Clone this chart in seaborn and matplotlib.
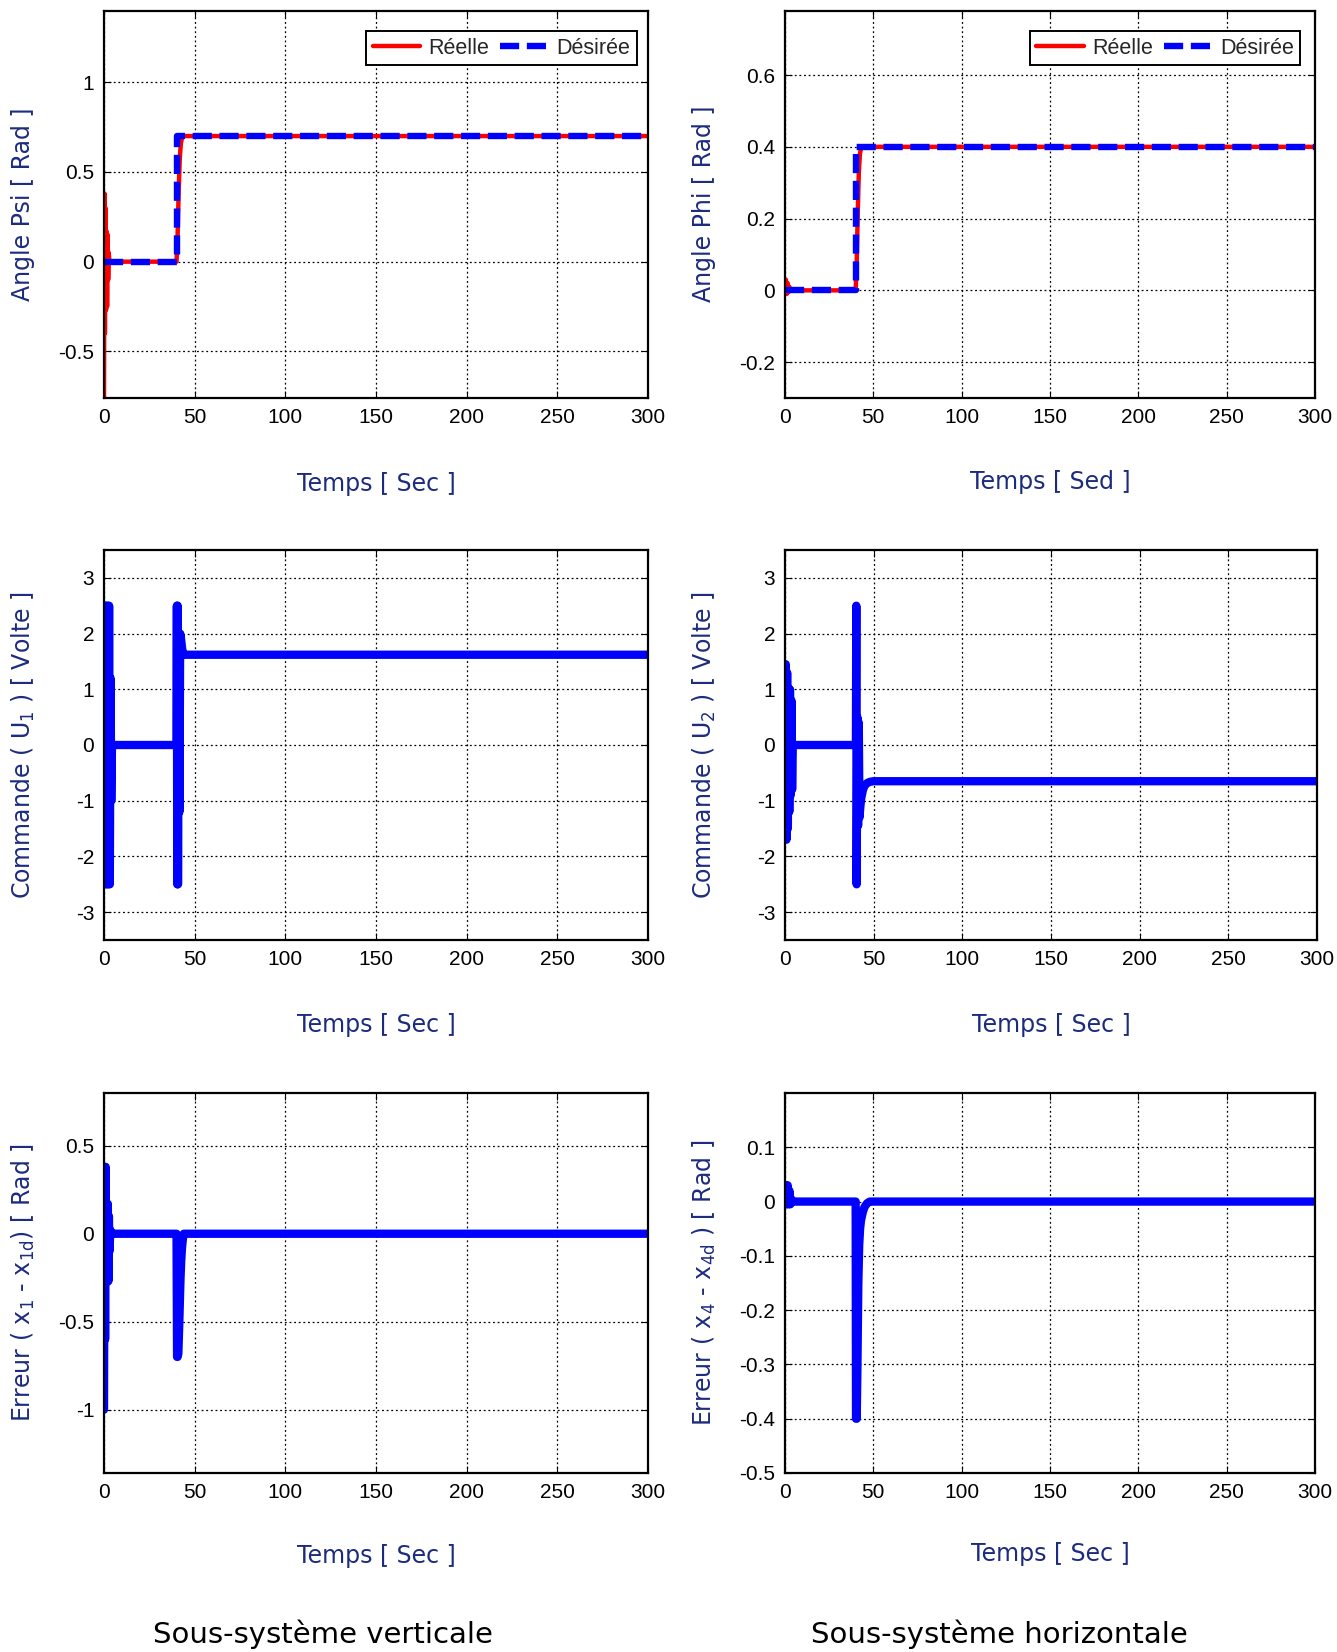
import numpy as np
import pandas as pd
import matplotlib
matplotlib.use("Agg")
import matplotlib.pyplot as plt
import seaborn as sns
from matplotlib.ticker import FuncFormatter, FixedLocator

# ---------------- data ----------------
t_psi_real = [0, 0.25, 0.5, 0.8, 1.1, 1.4, 1.7, 2.0, 2.3, 2.6, 3.0, 3.5,
              40.0, 40.6, 41.2, 41.8, 42.4, 43.0, 44.0, 300]
psi_real = [-0.76, 0.38, -0.40, 0.30, -0.27, 0.17, -0.25, 0.15, -0.10, 0.05, 0.0, 0.0,
            0.0, 0.15, 0.40, 0.58, 0.66, 0.69, 0.70, 0.70]
t_psi_des = [0, 40, 40, 300]
psi_des = [0, 0, 0.7, 0.7]

t_phi_real = [0, 0.5, 1.0, 1.5, 2.0, 2.5, 3.0, 40, 40.6, 41.2, 41.8, 42.4, 43, 44, 300]
phi_real = [0, 0.03, -0.01, 0.02, -0.005, 0.01, 0, 0, 0.08, 0.22, 0.33, 0.38, 0.395, 0.40, 0.40]
t_phi_des = [0, 40, 40, 300]
phi_des = [0, 0, 0.4, 0.4]

t_u1 = [0, 0.4, 0.8, 1.2, 1.6, 2.0, 2.4, 2.8, 3.2, 3.6, 4.0, 4.4,
        40.0, 40.2, 40.4, 40.6, 40.8, 41.2, 41.6, 42.0, 42.5, 43.0, 43.5, 44.0, 300]
u1 = [0, 2.5, -2.5, 2.5, -2.5, 2.5, -2.5, 2.5, -2.5, 1.2, -1.0, 0,
      0, 2.5, -2.5, 2.5, -2.5, 2.0, -1.2, 2.0, 1.9, 1.75, 1.65, 1.62, 1.62]

t_u2 = [0, 0.4, 0.8, 1.2, 1.6, 2.0, 2.4, 2.8, 3.2, 3.6, 4.0, 4.4,
        40.0, 40.2, 40.4, 40.8, 41.2, 41.6, 42.0, 42.5, 43.0, 44.0, 45.0, 46.5, 48.0, 50.0, 300]
u2 = [0, 1.45, -1.7, 1.3, -1.5, 1.0, -1.2, 1.0, -0.9, 0.8, -0.8, 0,
      0, 2.5, -2.5, 0.5, -1.45, 0.4, -1.3, -1.1, -0.95, -0.8, -0.72, -0.68, -0.66, -0.65, -0.65]

t_e1 = [0, 0.3, 0.6, 0.9, 1.2, 1.5, 1.8, 2.1, 2.4, 2.7, 3.0, 3.5, 4.2,
        40.0, 40.3, 40.6, 41.0, 41.4, 41.8, 42.2, 42.6, 43.0, 43.5, 44.0, 300]
e1 = [-1.0, 0.38, -0.6, 0.38, -0.27, 0.17, -0.27, 0.17, -0.27, 0.1, -0.1, 0.02, 0,
      0, -0.7, -0.7, -0.68, -0.55, -0.4, -0.25, -0.15, -0.08, -0.03, 0, 0]

t_e4 = [0, 0.5, 1.0, 1.5, 2.0, 2.5, 3.0, 3.5, 4.0,
        40.0, 40.2, 40.6, 41.0, 41.5, 42.0, 42.5, 43.0, 44.0, 45.0, 46.5, 48.0, 300]
e4 = [0, 0.03, -0.005, 0.03, -0.005, 0.02, -0.005, 0.005, 0,
      0, -0.4, -0.4, -0.3, -0.15, -0.08, -0.05, -0.035, -0.02, -0.01, -0.003, 0, 0]

x_ticks = [0, 50, 100, 150, 200, 250, 300]
legend_labels = ["Réelle", "Désirée"]

# ---------------- style ----------------
sns.set_theme(style="white")
plt.rcParams["font.family"] = ["Liberation Sans", "DejaVu Sans"]
plt.rcParams["mathtext.fontset"] = "dejavusans"
NAVY = "#1C2B7E"
W, H = 1337, 1652
fig = plt.figure(figsize=(W / 100, H / 100), dpi=100)


def make_ax(l, t, r, b):
    return fig.add_axes([l / W, 1 - b / H, (r - l) / W, (b - t) / H])


fmt = FuncFormatter(lambda v, p: "%g" % round(v, 6))


def style(ax, ylim, yticks):
    ax.set_xlim(0, 300)
    ax.set_ylim(*ylim)
    ax.xaxis.set_major_locator(FixedLocator(x_ticks))
    ax.yaxis.set_major_locator(FixedLocator(yticks))
    ax.xaxis.set_major_formatter(fmt)
    ax.yaxis.set_major_formatter(fmt)
    ax.grid(True, color="black", linestyle=(0, (1.5, 2.2)), linewidth=0.9)
    ax.tick_params(direction="in", length=5, width=0.8, labelsize=15,
                   colors="black", pad=7, top=True, right=True,
                   bottom=True, left=True, labeltop=False, labelright=False)
    for s in ax.spines.values():
        s.set_color("black")
        s.set_linewidth(1.6)
    ax.set_xlabel("")
    ax.set_ylabel("")
    ax.set_facecolor("white")


def line(ax, t, v, color, lw, dashed=False, label=None):
    df = pd.DataFrame({"t": t, "v": v})
    sns.lineplot(data=df, x="t", y="v", ax=ax, color=color, linewidth=lw,
                 sort=False, estimator=None, label=label, legend=False)
    l = ax.lines[-1]
    if dashed:
        l.set_dashes([3, 1.2])
    l.set_solid_capstyle("round")
    l.set_solid_joinstyle("round")
    return l


def labels(ax_box, ylab, xlab, xlab_y):
    l, t, r, b = ax_box
    fig.text((l - 81) / W, 1 - ((t + b) / 2) / H, ylab, rotation=90, ha="center",
             va="center", color=NAVY, fontsize=17, family="DejaVu Sans")
    fig.text(((l + r) / 2) / W, 1 - xlab_y / H, xlab, ha="center", va="center",
             color=NAVY, fontsize=17, family="DejaVu Sans")


def add_legend(ax, l1, l2, xa, ya):
    leg = ax.legend(handles=[l1, l2], labels=legend_labels, loc="upper right",
                    ncol=2, fontsize=15.5, frameon=True, fancybox=False,
                    handlelength=2.2, columnspacing=0.5, handletextpad=0.4,
                    borderpad=0.3, borderaxespad=0.0, bbox_to_anchor=(xa, ya))
    leg.get_frame().set_edgecolor("black")
    leg.get_frame().set_linewidth(1.4)
    leg.get_frame().set_alpha(1)


# boxes (left, top, right, bottom) in pixels
b_tl = (104, 10.5, 648, 398)
b_tr = (785, 10.5, 1315, 398)
b_ml = (104, 550, 648, 940)
b_mr = (785, 550, 1317, 940)
b_bl = (104, 1093, 648, 1473)
b_br = (785, 1093, 1315, 1473)

# --- top-left
ax = make_ax(*b_tl)
l1 = line(ax, t_psi_real, psi_real, "#FF0000", 3.2, label=legend_labels[0])
l2 = line(ax, t_psi_des, psi_des, "#0000FF", 4.6, dashed=True, label=legend_labels[1])
style(ax, (-0.76, 1.4), [-0.5, 0, 0.5, 1])
add_legend(ax, l1, l2, 0.979, 0.946)
labels(b_tl, "Angle Psi [ Rad ]", "Temps [ Sec ]", 484)

# --- top-right
ax = make_ax(*b_tr)
l1 = line(ax, t_phi_real, phi_real, "#FF0000", 3.2, label=legend_labels[0])
l2 = line(ax, t_phi_des, phi_des, "#0000FF", 4.6, dashed=True, label=legend_labels[1])
style(ax, (-0.3, 0.78), [-0.2, 0, 0.2, 0.4, 0.6])
add_legend(ax, l1, l2, 0.972, 0.946)
labels(b_tr, "Angle Phi [ Rad ]", "Temps [ Sed ]", 482)

# --- middle-left
ax = make_ax(*b_ml)
line(ax, t_u1, u1, "#0000FF", 6)
style(ax, (-3.5, 3.5), [-3, -2, -1, 0, 1, 2, 3])
labels(b_ml, r"Commande ( U$_\mathrm{1}$ ) [ Volte ]", "Temps [ Sec ]", 1025)

# --- middle-right
ax = make_ax(*b_mr)
line(ax, t_u2, u2, "#0000FF", 6)
style(ax, (-3.5, 3.5), [-3, -2, -1, 0, 1, 2, 3])
labels(b_mr, r"Commande ( U$_\mathrm{2}$ ) [ Volte ]", "Temps [ Sec ]", 1025)

# --- bottom-left
ax = make_ax(*b_bl)
line(ax, t_e1, e1, "#0000FF", 6)
style(ax, (-1.36, 0.8), [-1, -0.5, 0, 0.5])
labels(b_bl, r"Erreur ( x$_\mathrm{1}$ - x$_\mathrm{1d}$) [ Rad ]", "Temps [ Sec ]", 1556)

# --- bottom-right
ax = make_ax(*b_br)
line(ax, t_e4, e4, "#0000FF", 6)
style(ax, (-0.5, 0.2), [-0.5, -0.4, -0.3, -0.2, -0.1, 0, 0.1])
labels(b_br, r"Erreur ( x$_\mathrm{4}$ - x$_\mathrm{4d}$ ) [ Rad ]", "Temps [ Sec ]", 1554)

# --- captions
fig.text(323 / W, 1 - 1634 / H, "Sous-système verticale", ha="center", va="center",
         fontsize=21, color="black", family="DejaVu Sans")
fig.text(999 / W, 1 - 1634 / H, "Sous-système horizontale", ha="center", va="center",
         fontsize=21, color="black", family="DejaVu Sans")

fig.savefig("out.png", dpi=100, facecolor="white")
